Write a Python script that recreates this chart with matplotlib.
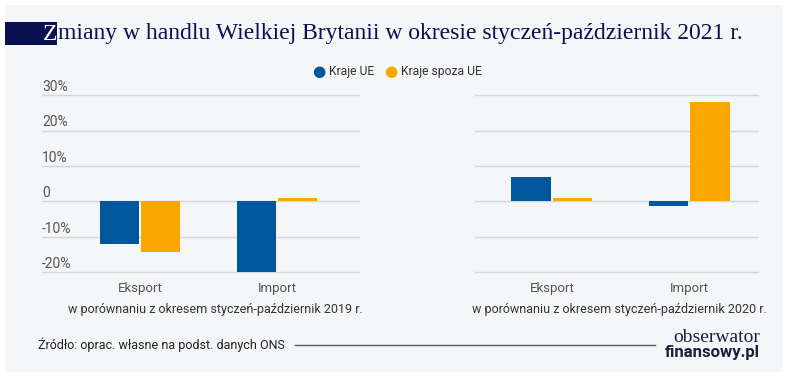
import matplotlib.pyplot as plt
import matplotlib.transforms as mtransforms
from matplotlib.patches import Rectangle
import numpy as np

# data
categories = ["Eksport", "Import"]
ue_2019 = [-11.9, -19.9]
non_ue_2019 = [-14.2, 0.9]
ue_2020 = [6.9, -1.4]
non_ue_2020 = [1.1, 27.9]
y_ticks = [-20, -10, 0, 10, 20, 30]
y_tick_labels = ["-20%", "-10%", "0", "10%", "20%", "30%"]
series_names = ["Kraje UE", "Kraje spoza UE"]
subtitles = ["w porównaniu z okresem styczeń-październik 2019 r.",
             "w porównaniu z okresem styczeń-październik 2020 r."]

BLUE = "#00579b"
ORANGE = "#fca600"
BG = "#f4f6f8"
GRID = "#d3d7db"
TXT = "#555555"
NAVY = "#0b1150"

plt.rcParams['font.family'] = ['Roboto', 'DejaVu Sans']

W, H = 788, 377
fig = plt.figure(figsize=(W / 100, H / 100), dpi=100)
fig.patch.set_facecolor("white")
# panel background
fig.patches.append(Rectangle((5 / W, 5 / H), 778 / W, 367 / H,
                             transform=fig.transFigure, facecolor=BG,
                             edgecolor="none", zorder=-10))

def axes_rect(x0, x1, ytop, ybot):
    return [x0 / W, 1 - ybot / H, (x1 - x0) / W, (ybot - ytop) / H]

ax1 = fig.add_axes(axes_rect(42, 360, 91.5, 276))
ax2 = fig.add_axes(axes_rect(475, 759, 91.5, 276))

x = np.arange(len(categories))
bw = 0.29

def draw(ax, ue, non_ue, xlim, labels):
    ax.set_facecolor("none")
    for v in y_ticks:
        ax.axhline(v, color=GRID, lw=1, zorder=0)
    ax.bar(x - bw / 2 - 0.005, ue, width=bw, color=BLUE, zorder=2)
    ax.bar(x + bw / 2 + 0.005, non_ue, width=bw, color=ORANGE, zorder=2)
    ax.set_xlim(*xlim)
    ax.set_ylim(-21, 31)
    for s in ax.spines.values():
        s.set_visible(False)
    ax.set_yticks([])
    ax.set_xticks(x)
    ax.set_xticklabels(categories, fontsize=9.5, color=TXT)
    ax.tick_params(axis="x", length=0, pad=4)
    if labels:
        trans = mtransforms.blended_transform_factory(ax.transAxes, ax.transData)
        for v, lab in zip(y_ticks, y_tick_labels):
            ax.text(0, v + 1.2, lab, transform=trans, ha="left", va="baseline",
                    fontsize=10, color=TXT)

draw(ax1, ue_2019, non_ue_2019, (-0.715, 1.606), True)
draw(ax2, ue_2020, non_ue_2020, (-0.56, 1.51), False)

# subtitles under the groups
fig.text(215 / W, 1 - 309 / H, subtitles[0], ha="center", va="center",
         fontsize=9, color="#333333")
fig.text(619 / W, 1 - 309 / H, subtitles[1], ha="center", va="center",
         fontsize=9, color="#333333")

# title
fig.patches.append(Rectangle((5 / W, 1 - 45 / H), 52 / W, 23 / H,
                             transform=fig.transFigure, facecolor=NAVY,
                             edgecolor="none"))
fig.text(43 / W, 1 - 34 / H, "Z", ha="left", va="center", fontsize=17,
         color="white", family="Liberation Serif")
fig.text(58 / W, 1 - 34 / H,
         "miany w handlu Wielkiej Brytanii w okresie styczeń-październik 2021 r.",
         ha="left", va="center", fontsize=17, color=NAVY, family="Liberation Serif")

# legend
ly = 1 - 72 / H
fig.text(319 / W, ly, "●", color=BLUE, fontsize=11, ha="center", va="center",
         family="DejaVu Sans")
fig.text(329 / W, ly, series_names[0], color="#333333", fontsize=8.7, ha="left", va="center")
fig.text(391 / W, ly, "●", color=ORANGE, fontsize=11, ha="center", va="center",
         family="DejaVu Sans")
fig.text(401 / W, ly, series_names[1], color="#333333", fontsize=8.7, ha="left", va="center")

# source line and logo
fig.text(38 / W, 1 - 345 / H, "Źródło: oprac. własne na podst. danych ONS",
         ha="left", va="center", fontsize=9, color="#222222")
fig.add_artist(plt.Line2D([295 / W, 655 / W], [1 - 345 / H, 1 - 345 / H],
                          transform=fig.transFigure, color="#555a70", lw=1))
fig.text(760 / W, 1 - 337 / H, "obserwator", ha="right", va="center",
         fontsize=14, color="#1a1f3a", family="Liberation Serif")
fig.text(760 / W, 1 - 353 / H, "finansowy.pl", ha="right", va="center",
         fontsize=12, color="#1a1f3a", fontweight="bold")

fig.savefig("out.png", dpi=100, facecolor=fig.get_facecolor())
